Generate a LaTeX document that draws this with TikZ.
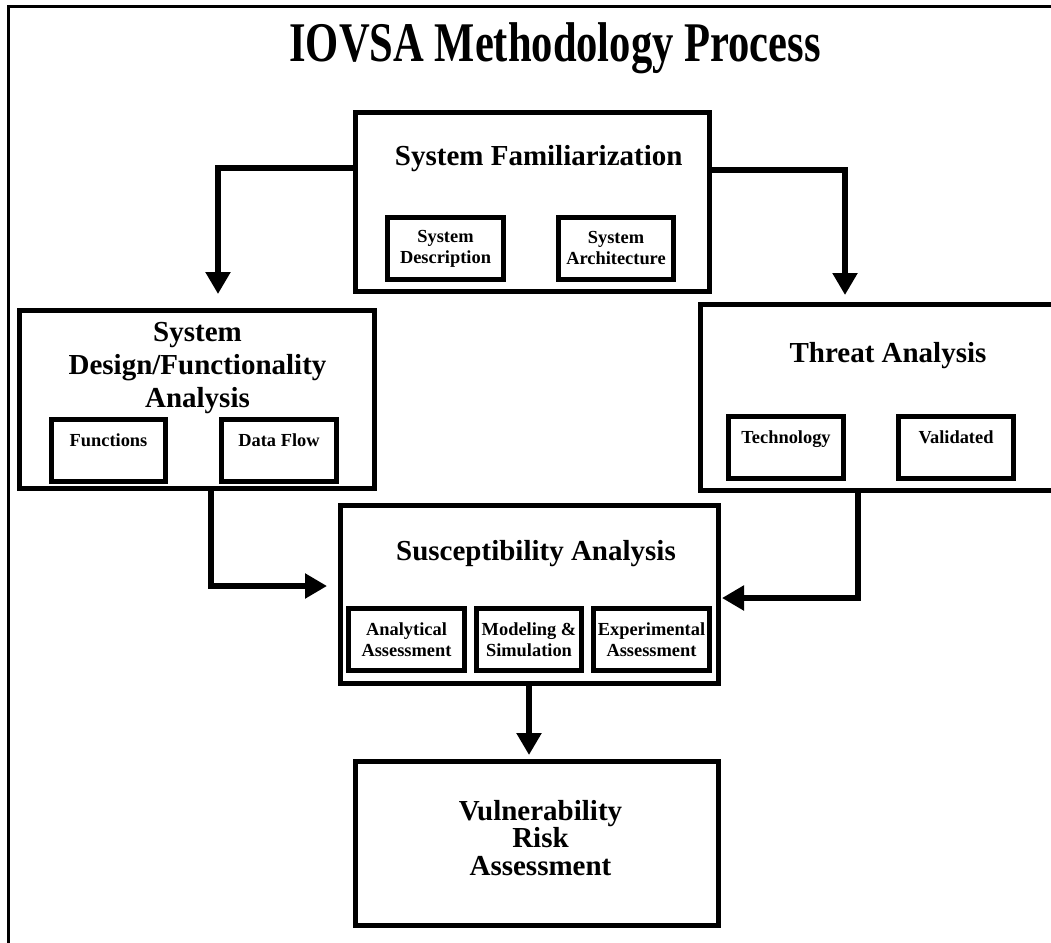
\documentclass[tikz,border=0pt]{standalone}
\usepackage{fontspec}
\setmainfont{Liberation Serif}
\usetikzlibrary{arrows.meta}

\begin{document}
\begin{tikzpicture}[x=1pt,y=-1pt,
  bigbox/.style={draw, line width=5pt, inner sep=0pt, outer sep=0pt},
  subbox/.style={draw, line width=4.3pt, inner sep=0pt, outer sep=0pt, minimum height=62pt,
    align=center, font=\fontsize{18.4}{21}\selectfont\bfseries},
  bigtext/.style={align=center, inner sep=0pt, anchor=base, font=\fontsize{29}{33}\selectfont\bfseries},
  flow/.style={line width=5.3pt, -{Triangle[length=22pt,width=24pt]}}]

  \useasboundingbox (0,0) rectangle (1051,942);

  % Outer frame
  \draw[line width=3pt] (8,950) -- (8,7) -- (1060,7);

  \node[anchor=base, inner sep=0pt, font=\fontsize{56}{60}\selectfont\bfseries] (title) at (555,62)
    {\scalebox{0.76}[1]{IOVSA Methodology Process}};

  % Main boxes
  \node[bigbox, minimum width=354pt, minimum height=179pt] (fam) at (532,201.5) {};
  \node[bigbox, minimum width=355pt, minimum height=178pt] (sdfa) at (196.5,399) {};
  \node[bigbox, minimum width=380pt, minimum height=186pt] (threat) at (890,397) {};
  \node[bigbox, minimum width=378pt, minimum height=178pt] (sa) at (529,594) {};
  \node[bigbox, minimum width=363pt, minimum height=164pt] (vra) at (536.5,843) {};

  % Box titles (base = last line)
  \node[bigtext] (famT) at (538.7,165) {System Familiarization};
  \node[bigtext] (sdfaT) at (197.5,407) {System\\Design/Functionality\\Analysis};
  \node[bigtext] (threatT) at (888,362) {Threat Analysis};
  \node[bigtext] (saT) at (536,560) {Susceptibility Analysis};
  \node[bigtext, font=\fontsize{29}{27.5}\selectfont\bfseries] (vraT) at (540.5,875)
    {Vulnerability\\Risk\\Assessment};

  % Inner boxes
  \foreach \name/\x/\y/\w/\txt in {
      desc/445.5/248.5/116/{System\\Description},
      arch/616/248.5/115/{System\\Architecture},
      func/108.5/450.5/114/{Functions\\\mbox{}},
      dflow/279/450.5/115/{Data Flow\\\mbox{}},
      tech/786/447.5/115/{Technology\\\mbox{}},
      valid/956/447.5/115/{Validated\\\mbox{}},
      anal/406.5/639.5/116/{Analytical\\Assessment},
      model/529/639.5/105/{Modeling \&\\Simulation},
      exper/651.5/639.5/116/{Experimental\\Assessment}}
  {
    \node[subbox, minimum width=\w pt] (\name) at (\x,\y) {\txt};
  }

  % Flow arrows
  \draw[flow] ([yshift=33.5pt]fam.west) -| ([xshift=21.5pt,yshift=16pt]sdfa.north);
  \draw[flow] ([yshift=31.5pt]fam.east) -| ([xshift=-45pt,yshift=9pt]threat.north);
  \draw[flow] ([xshift=14.5pt]sdfa.south) |- ([xshift=-13pt,yshift=8pt]sa.west);
  \draw[flow] ([xshift=-32pt]threat.south) |- ([xshift=4pt,yshift=-4pt]sa.east);
  \draw[flow] (sa.south) -- ([yshift=6pt]sa.south |- vra.north);

\end{tikzpicture}
\end{document}
